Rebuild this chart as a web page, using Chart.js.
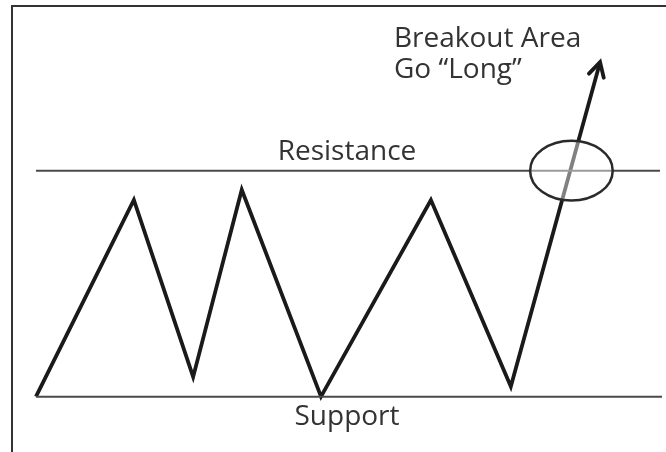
<!DOCTYPE html>
<html lang="en">
<head>
    <meta charset="UTF-8">
    <title>Breakout Area</title>
    <style>
        body {
            margin: 0;
            background: #fff;
        }

        .chart-box {
            position: relative;
            width: 666px;
            height: 452px;
        }
    </style>
    <script src="https://cdn.jsdelivr.net/npm/chart.js"></script>
</head>
<body>
    <div class="chart-box">
        <canvas id="breakoutChart" width="666" height="452"></canvas>
    </div>

    <script>
        // price path (time, price)
        const pathTime = [5.4, 20.1, 29.0, 36.3, 48.2, 64.7, 76.7, 90.1];
        const pathPrice = [9.8, 44.6, 13.3, 46.4, 9.8, 44.6, 11.6, 69.0];

        const supportLevel = 9.8;
        const resistanceLevel = 49.8;
        const supportSpan = [5.4, 99.4];
        const resistanceSpan = [5.4, 99.1];

        // breakout zone, centre and half sizes in axis units
        const zoneCenter = [85.8, 49.8];
        const zoneRadius = [6.2, 5.3];

        const labels = ['Resistance', 'Support', 'Breakout Area', 'Go \u201cLong\u201d'];

        const pricePath = pathTime.map((t, i) => ({ x: t, y: pathPrice[i] }));

        const overlay = {
            id: 'overlay',
            afterDatasetsDraw(chart) {
                const ctx = chart.ctx;
                const xs = chart.scales.x, ys = chart.scales.y;

                // breakout ellipse, lines inside are lighter
                const cx = xs.getPixelForValue(zoneCenter[0]);
                const cy = ys.getPixelForValue(zoneCenter[1]);
                const rx = Math.abs(xs.getPixelForValue(zoneCenter[0] + zoneRadius[0]) - cx);
                const ry = Math.abs(ys.getPixelForValue(zoneCenter[1] + zoneRadius[1]) - cy);
                ctx.save();
                ctx.beginPath();
                ctx.ellipse(cx, cy, rx, ry, 0, 0, Math.PI * 2);
                ctx.fillStyle = 'rgba(255,255,255,0.45)';
                ctx.fill();
                ctx.lineWidth = 2.5;
                ctx.strokeStyle = '#2a2a2a';
                ctx.stroke();
                ctx.restore();

                // arrow head at the end of the path
                const n = pricePath.length;
                const x1 = xs.getPixelForValue(pricePath[n - 2].x), y1 = ys.getPixelForValue(pricePath[n - 2].y);
                const x2 = xs.getPixelForValue(pricePath[n - 1].x), y2 = ys.getPixelForValue(pricePath[n - 1].y);
                const ang = Math.atan2(y2 - y1, x2 - x1);
                ctx.save();
                ctx.strokeStyle = '#1a1a1a';
                ctx.lineWidth = 3.8;
                ctx.lineCap = 'round';
                ctx.beginPath();
                ctx.moveTo(x2 - 16 * Math.cos(ang - 0.5), y2 - 16 * Math.sin(ang - 0.5));
                ctx.lineTo(x2, y2);
                ctx.lineTo(x2 - 16 * Math.cos(ang + 0.5), y2 - 16 * Math.sin(ang + 0.5));
                ctx.stroke();
                ctx.restore();

                // texts
                ctx.save();
                ctx.fillStyle = '#333';
                ctx.font = '28px "Open Sans", sans-serif';
                ctx.textBaseline = 'alphabetic';
                ctx.textAlign = 'center';
                ctx.fillText(labels[0], 347, 160);
                ctx.fillText(labels[1], 347, 425);
                ctx.textAlign = 'left';
                ctx.fillText(labels[2], 394, 47);
                ctx.fillText(labels[3], 394, 78);
                ctx.restore();

                // frame
                ctx.save();
                ctx.strokeStyle = '#333';
                ctx.lineWidth = 2;
                ctx.beginPath();
                ctx.moveTo(12, 452);
                ctx.lineTo(12, 6);
                ctx.lineTo(666, 6);
                ctx.stroke();
                ctx.restore();
            }
        };

        new Chart(document.getElementById('breakoutChart'), {
            type: 'scatter',
            data: {
                datasets: [
                    {
                        label: 'Resistance',
                        data: resistanceSpan.map(t => ({ x: t, y: resistanceLevel })),
                        showLine: true,
                        borderColor: '#4a4a4a',
                        borderWidth: 2,
                        pointRadius: 0
                    },
                    {
                        label: 'Support',
                        data: supportSpan.map(t => ({ x: t, y: supportLevel })),
                        showLine: true,
                        borderColor: '#4a4a4a',
                        borderWidth: 2,
                        pointRadius: 0
                    },
                    {
                        label: 'Price',
                        data: pricePath,
                        showLine: true,
                        borderColor: '#1a1a1a',
                        borderWidth: 3.8,
                        borderJoinStyle: 'miter',
                        pointRadius: 0
                    }
                ]
            },
            options: {
                responsive: false,
                animation: false,
                layout: { padding: 0 },
                scales: {
                    x: { type: 'linear', min: 0, max: 100, display: false },
                    y: { type: 'linear', min: 0, max: 80, display: false }
                },
                plugins: {
                    legend: { display: false },
                    tooltip: { enabled: false }
                }
            },
            plugins: [overlay]
        });
    </script>
</body>
</html>
